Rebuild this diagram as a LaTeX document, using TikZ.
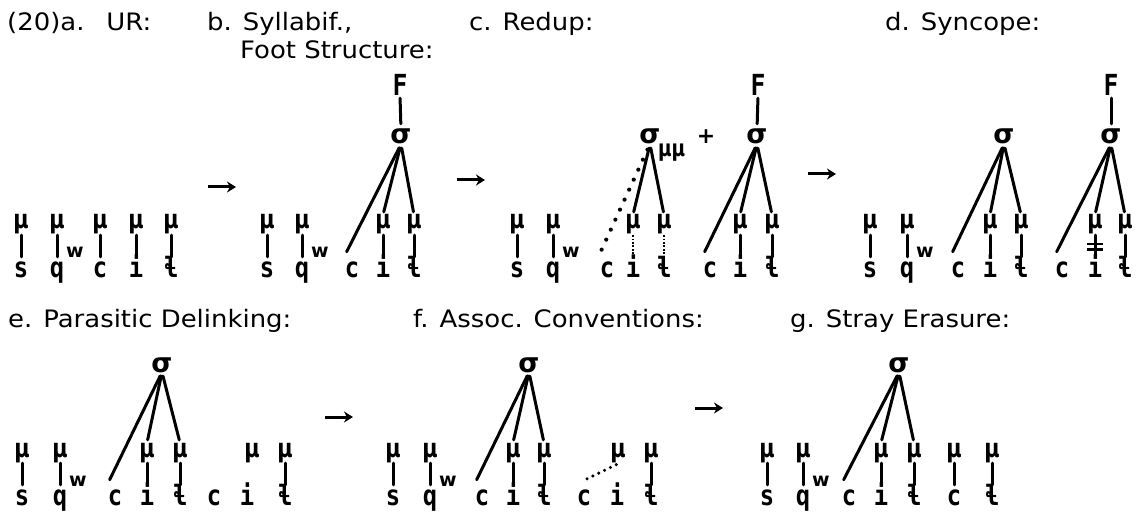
\documentclass[tikz,border=0pt]{standalone}
\usepackage{fontspec}
\setmainfont{DejaVu Sans}[FakeStretch=1.08]
\newfontfamily\symf{DejaVu Sans}
\newfontfamily\muf{DejaVu Sans}[FakeStretch=0.8]
\newfontfamily\segf{DejaVu Sans Mono}[FakeStretch=0.85]
\usetikzlibrary{arrows.meta,calc}
\newcommand\mucol[5]{%
  \node[mu] (#1m) at (#2,#3) {μ};
  \node[seg] (#1s) at (#2,#4) {#5};
  \draw[tl, shorten >=4pt] (#1m.south) -- (#1s.north);}
\begin{document}
\begin{tikzpicture}[x=1pt,y=-1pt,
  hd/.style={font=\fontsize{24}{28}\selectfont, inner sep=0pt, anchor=base west},
  mu/.style={font=\muf\bfseries\fontsize{26}{26}\selectfont, inner sep=0pt, text height=14pt, text depth=6pt, anchor=base},
  seg/.style={font=\segf\bfseries\fontsize{28}{28}\selectfont, inner sep=0pt, text height=16pt, text depth=0pt, anchor=base},
  wsup/.style={font=\symf\bfseries\fontsize{19}{19}\selectfont, inner sep=0pt, anchor=base west},
  sig/.style={font=\symf\bfseries\fontsize{27}{27}\selectfont, inner sep=0pt, text height=14pt, text depth=0pt, anchor=base},
  foot/.style={font=\segf\bfseries\fontsize{29}{29}\selectfont, inner sep=0pt, text height=21pt, text depth=0pt, anchor=base},
  mm/.style={font=\muf\bfseries\fontsize{23}{23}\selectfont, inner sep=0pt, anchor=base west},
  plus/.style={font=\symf\bfseries\fontsize{22}{22}\selectfont, inner sep=0pt, anchor=center},
  tl/.style={line width=3pt, line cap=round},
  br/.style={tl, shorten <=4pt, shorten >=3pt},
  dl/.style={line width=4.2pt, line cap=round, dash pattern=on 0pt off 11pt, shorten <=6pt},
  vdl/.style={line width=2.6pt, dash pattern=on 1.8pt off 1.6pt, shorten >=4pt},
  fdl/.style={line width=3.4pt, line cap=round, dash pattern=on 0pt off 6.5pt},
  stagearrow/.style={line width=3pt, -{Stealth[length=9pt,width=11pt]}}
]
\useasboundingbox (0,0) rectangle (1146,513);
% headings
\node[hd] (headA) at (7,31) {(20)a.\hspace{22pt}UR:};
\node[hd] (headB) at (207,31) {b. Syllabif.,};
\node[hd] (headB2) at (240,59) {Foot Structure:};
\node[hd] (headC) at (469,31) {c. Redup:};
\node[hd] (headD) at (885,31) {d. Syncope:};
\node[hd] (headE) at (8,327) {e. Parasitic Delinking:};
\node[hd] (headF) at (413,327) {f. Assoc. Conventions:};
\node[hd] (headG) at (790,327) {g. Stray Erasure:};
% (a)
\mucol{a1}{21}{229}{277}{s}
\mucol{a2}{57}{229}{277}{q}
\node[wsup] (a2w) at (66,258) {w};
\mucol{a3}{100}{229}{277}{c}
\mucol{a4}{136}{229}{277}{i}
\mucol{a5}{171}{229}{277}{ɬ}
\coordinate (r1a) at (208,187); \coordinate (r1b) at (236,187);
\draw[stagearrow] (r1a) -- (r1b);
% (b)
\mucol{b1}{267}{229}{277}{s}
\mucol{b2}{302}{229}{277}{q}
\node[wsup] (b2w) at (311,258) {w};
\node[seg] (b3s) at (352,277) {c};
\mucol{b4}{383}{229}{277}{i}
\mucol{b5}{414}{229}{277}{ɬ}
\node[sig] (bsig) at (401,144) {σ};
\node[foot] (bF) at (400,96) {F};
\draw[tl, shorten <=2pt, shorten >=6pt] (bF.south) -- (bsig.north);
\draw[tl, shorten <=4pt] (bsig.south) -- ($(b3s.north west)+(2,-9)$);
\draw[br] (bsig.south) -- (b4m.north);
\draw[br] (bsig.south) -- (b5m.north);
\coordinate (r2a) at (457,180); \coordinate (r2b) at (485,180);
\draw[stagearrow] (r2a) -- (r2b);
% (c)
\mucol{c1}{517}{229}{277}{s}
\mucol{c2}{553}{229}{277}{q}
\node[wsup] (c2w) at (562,258) {w};
\node[seg] (c3s) at (607,277) {c};
\node[mu] (c4m) at (633,229) {μ};
\node[seg] (c4s) at (633,277) {i};
\draw[vdl] (c4m.south) -- (c4s.north);
\node[mu] (c5m) at (664,229) {μ};
\node[seg] (c5s) at (664,277) {ɬ};
\draw[vdl] (c5m.south) -- (c5s.north);
\node[sig] (csig1) at (650,144) {σ};
\node[mm] (cmm) at (658,157) {μμ};
\node[plus] (cplus) at (706,137) {+};
\draw[dl] (csig1.south) -- ($(c3s.north west)+(1,-9)$);
\draw[br] (csig1.south) -- (c4m.north);
\draw[br] (csig1.south) -- (c5m.north);
\node[seg] (c6s) at (710,277) {c};
\mucol{c7}{740}{229}{277}{i}
\mucol{c8}{772}{229}{277}{ɬ}
\node[sig] (csig2) at (757,144) {σ};
\node[foot] (cF) at (758,96) {F};
\draw[tl, shorten <=2pt, shorten >=6pt] (cF.south) -- (csig2.north);
\draw[tl, shorten <=4pt] (csig2.south) -- ($(c6s.north west)+(2,-9)$);
\draw[br] (csig2.south) -- (c7m.north);
\draw[br] (csig2.south) -- (c8m.north);
\coordinate (r3a) at (808,174); \coordinate (r3b) at (836,174);
\draw[stagearrow] (r3a) -- (r3b);
% (d)
\mucol{d1}{870}{229}{277}{s}
\mucol{d2}{907}{229}{277}{q}
\node[wsup] (d2w) at (916,258) {w};
\node[seg] (d3s) at (958,277) {c};
\mucol{d4}{990}{229}{277}{i}
\mucol{d5}{1021}{229}{277}{ɬ}
\node[sig] (dsig1) at (1004,144) {σ};
\draw[tl, shorten <=4pt] (dsig1.south) -- ($(d3s.north west)+(2,-9)$);
\draw[br] (dsig1.south) -- (d4m.north);
\draw[br] (dsig1.south) -- (d5m.north);
\node[seg] (d6s) at (1062,277) {c};
\mucol{d7}{1095}{229}{277}{i}
\coordinate (d7x) at ($(d7m.south)!0.45!(d7s.north)$);
\draw[line width=2.4pt] ($(d7x)+(-8,-2.6)$) -- ($(d7x)+(8,-2.6)$);
\draw[line width=2.4pt] ($(d7x)+(-8,2.6)$) -- ($(d7x)+(8,2.6)$);
\mucol{d8}{1125}{229}{277}{ɬ}
\node[sig] (dsig2) at (1111,144) {σ};
\node[foot] (dF) at (1111,96) {F};
\draw[tl, shorten <=2pt, shorten >=6pt] (dF.south) -- (dsig2.north);
\draw[tl, shorten <=4pt] (dsig2.south) -- ($(d6s.north west)+(2,-9)$);
\draw[br] (dsig2.south) -- (d7m.north);
\draw[br] (dsig2.south) -- (d8m.north);
% (e)
\mucol{e1}{22}{457}{505}{s}
\mucol{e2}{60}{457}{505}{q}
\node[wsup] (e2w) at (69,486) {w};
\node[seg] (e3s) at (115,505) {c};
\mucol{e4}{147}{457}{505}{i}
\mucol{e5}{180}{457}{505}{ɬ}
\node[sig] (esig) at (162,372) {σ};
\draw[tl, shorten <=4pt] (esig.south) -- ($(e3s.north west)+(2,-9)$);
\draw[br] (esig.south) -- (e4m.north);
\draw[br] (esig.south) -- (e5m.north);
\node[seg] (e6s) at (214,505) {c};
\node[seg] (e7s) at (247,505) {i};
\node[mu] (e7m) at (252,457) {μ};
\mucol{e8}{285}{457}{505}{ɬ}
\coordinate (r4a) at (325,417); \coordinate (r4b) at (353,417);
\draw[stagearrow] (r4a) -- (r4b);
% (f)
\mucol{f1}{393}{457}{505}{s}
\mucol{f2}{430}{457}{505}{q}
\node[wsup] (f2w) at (439,486) {w};
\node[seg] (f3s) at (482,505) {c};
\mucol{f4}{513}{457}{505}{i}
\mucol{f5}{544}{457}{505}{ɬ}
\node[sig] (fsig) at (529,372) {σ};
\draw[tl, shorten <=4pt] (fsig.south) -- ($(f3s.north west)+(2,-9)$);
\draw[br] (fsig.south) -- (f4m.north);
\draw[br] (fsig.south) -- (f5m.north);
\node[seg] (f6s) at (584,505) {c};
\node[seg] (f7s) at (617,505) {i};
\node[mu] (f7m) at (618,457) {μ};
\draw[fdl] ($(f6s.north)+(3,-10)$) -- ($(f7m.south)+(-1,1)$);
\mucol{f8}{651}{457}{505}{ɬ}
\coordinate (r5a) at (695,408); \coordinate (r5b) at (723,408);
\draw[stagearrow] (r5a) -- (r5b);
% (g)
\mucol{g1}{767}{457}{505}{s}
\mucol{g2}{803}{457}{505}{q}
\node[wsup] (g2w) at (812,486) {w};
\node[seg] (g3s) at (849,505) {c};
\mucol{g4}{881}{457}{505}{i}
\mucol{g5}{914}{457}{505}{ɬ}
\node[sig] (gsig) at (899,372) {σ};
\draw[tl, shorten <=4pt] (gsig.south) -- ($(g3s.north west)+(2,-9)$);
\draw[br] (gsig.south) -- (g4m.north);
\draw[br] (gsig.south) -- (g5m.north);
\mucol{g6}{954}{457}{505}{c}
\mucol{g7}{992}{457}{505}{ɬ}
\end{tikzpicture}
\end{document}
